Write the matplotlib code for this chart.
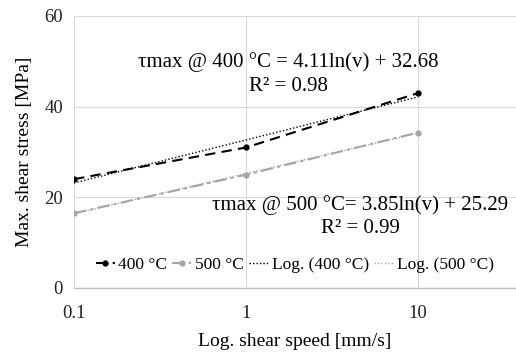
import numpy as np
import matplotlib
matplotlib.use("Agg")
import matplotlib.pyplot as plt

speed = [0.1, 1, 10]
stress_400 = [24.0, 31.0, 43.0]
stress_500 = [16.5, 25.0, 34.3]
xticks = [0.1, 1, 10]
xticklabels = ["0.1", "1", "10"]
yticks = [0, 20, 40, 60]

plt.rcParams['font.family'] = ['Liberation Serif', 'DejaVu Serif']

fig = plt.figure(figsize=(5.16, 3.54), dpi=100)
ax = fig.add_axes([74/516, 1-288/354, 1-74/516, 272/354])

xs = np.logspace(-1, 1, 100)
c400 = np.polyfit(np.log(speed), stress_400, 1)
c500 = np.polyfit(np.log(speed), stress_500, 1)

ax.plot(speed, stress_400, color='black', ls=(0, (5, 3)), lw=1.5, marker='o', ms=3.5, label='400 °C', zorder=4)
ax.plot(speed, stress_500, color='#A5A5A5', ls=(0, (6, 2, 1.5, 2)), lw=1.5, marker='o', ms=3.5, label='500 °C', zorder=4)
ax.plot(xs, np.polyval(c400, np.log(xs)), color='black', ls=(0, (1, 1.5)), lw=1.0, label='Log. (400 °C)', zorder=3)
ax.plot(xs, np.polyval(c500, np.log(xs)), color='#A5A5A5', ls=(0, (1, 1.5)), lw=1.0, label='Log. (500 °C)', zorder=3)

ax.set_xscale('log')
ax.set_xlim(0.1, 37)
ax.set_ylim(0, 60)
ax.set_xticks(xticks)
ax.set_xticklabels(xticklabels)
ax.minorticks_off()
ax.set_yticks(yticks)
ax.tick_params(length=0, labelsize=13.5, colors='#222222', pad=8)
ax.tick_params(axis='x', pad=12)
ax.grid(True, color='#D9D9D9', lw=0.8)
for s in ['top', 'right', 'left']:
    ax.spines[s].set_visible(False)
ax.spines['bottom'].set_color('#BFBFBF')
ax.spines['bottom'].set_linewidth(1.0)

ax.set_xlabel('Log. shear speed [mm/s]', fontsize=14, labelpad=8)
ax.set_ylabel('Max. shear stress [MPa]', fontsize=14, labelpad=8)

ax.text(0.485, 0.831, 'τmax @ 400 °C = 4.11ln(v) + 32.68', transform=ax.transAxes,
        ha='center', va='center', fontsize=15)
ax.text(0.485, 0.739, 'R² = 0.98', transform=ax.transAxes,
        ha='center', va='center', fontsize=15)
ax.text(0.647, 0.305, 'τmax @ 500 °C= 3.85ln(v) + 25.29', transform=ax.transAxes,
        ha='center', va='center', fontsize=15)
ax.text(0.647, 0.22, 'R² = 0.99', transform=ax.transAxes,
        ha='center', va='center', fontsize=15)

leg = ax.legend(loc='center', bbox_to_anchor=(0.499, 0.085), ncol=4, frameon=False, fontsize=12.5,
                handlelength=1.1, handletextpad=0.2, columnspacing=0.3, borderaxespad=0,
                borderpad=0)

fig.savefig('out.png', dpi=100)
